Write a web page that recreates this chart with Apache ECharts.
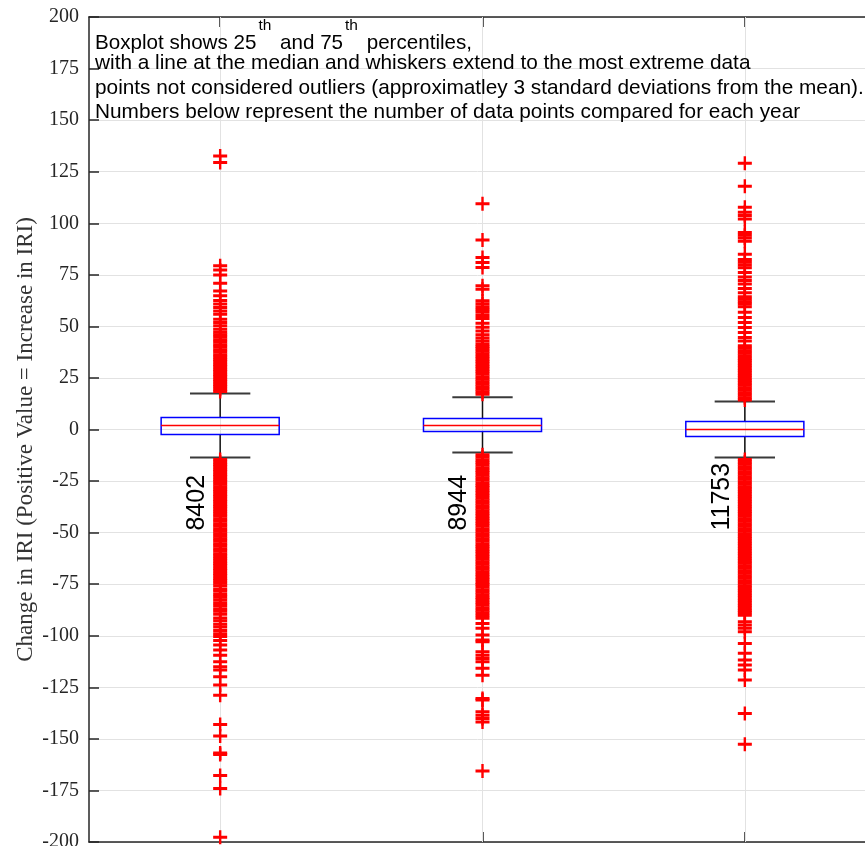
<!DOCTYPE html>
<html>
<head>
<meta charset="utf-8">
<script src="https://cdn.jsdelivr.net/npm/echarts@6/dist/echarts.min.js"></script>
<style>
html,body{margin:0;padding:0;background:#fff}
#main{width:865px;height:846px}
</style>
</head>
<body>
<div id="main"></div>
<script>
// one box per year group, x = 1..3
var groups = [1, 2, 3];
var counts = ['8402', '8944', '11753'];
var whiskerLow = [-13.6, -11.2, -13.6];
var q1 = [-2.4, -1.0, -3.4];
var median = [1.9, 1.9, 0];
var q3 = [5.8, 5.3, 3.9];
var whiskerHigh = [17.5, 15.6, 13.6];

// outliers (dense parts are solid columns)
var outliers1 = [132.6, 129.4, 79.4, 77.3, 74.9, 70.9, 67.2, 64.8, 62.6, 60.8, 59.1, 57.4, 55.9, 53.5, 51.9, 50.3, 48.6,
  47.1, 46.0, 44.8, 43.5, 42.4, 41.1, 40.0, 38.7, 37.6, 36.3, 35.2, 33.9, 32.8, 31.5, 30.4, 29.1, 28.0, 26.7, 25.6,
  24.3, 23.2, 21.9, 20.8, 19.5, 18.4,
  -14.6, -15.7, -17.0, -18.1, -19.4, -20.5, -21.8, -22.9, -24.2, -25.3, -26.6, -27.7, -29.0, -30.1, -31.4, -32.5,
  -33.8, -34.9, -36.2, -37.3, -38.6, -39.7, -41.0, -42.1, -43.4, -44.5, -45.8, -46.9, -48.2, -49.3, -50.6, -51.7,
  -53.0, -54.1, -55.4, -56.5, -57.8, -58.9, -60.2, -61.3, -62.6, -63.7, -65.0, -66.1, -67.4, -68.5, -69.8, -70.9,
  -72.2, -73.3, -74.6, -75.7, -77.3, -78.4, -80.0, -81.2, -82.5, -84.0, -85.3, -86.9, -88.1, -89.6, -91.4, -92.7,
  -94.4, -95.8, -97.5, -99.0, -100.4, -102.3, -104.5, -106.9, -109.4, -112.6, -115.0, -116.6, -119.9, -123.9,
  -128.8, -143.0, -148.6, -156.8, -157.6, -167.7, -174.1, -197.7];
var outliers2 = [109.4, 91.9, 83.4, 81.0, 78.6, 69.7, 68.0, 62.4, 61.0, 59.5, 58.2, 56.8, 55.3, 53.8, 51.5, 49.6, 47.8,
  46.0, 44.4, 42.9, 41.5, 40.3, 39.1, 37.9, 36.7, 35.4, 34.2, 33.0, 31.8, 30.5, 29.3, 28.1, 26.9, 25.6, 24.4, 23.2,
  22.0, 20.7, 19.5, 18.3, 17.1,
  -12.3, -13.5, -14.8, -16.0, -17.2, -18.5, -19.7, -20.9, -22.2, -23.4, -24.6, -25.9, -27.1, -28.3, -29.6, -30.8,
  -32.0, -33.3, -34.5, -35.7, -37.0, -38.2, -39.4, -40.7, -41.9, -43.1, -44.4, -45.6, -46.8, -48.1, -49.3, -50.5,
  -51.8, -53.0, -54.2, -55.5, -56.7, -57.9, -59.2, -60.4, -61.6, -62.9, -64.1, -65.3, -66.6, -67.8, -69.0, -70.3,
  -71.5, -72.7, -74.0, -75.2, -76.4, -77.7, -78.9, -80.1, -81.4, -82.6, -83.9, -85.1, -86.4, -87.6, -88.9, -90.2,
  -91.5, -94.0, -96.4, -99.6, -102.0, -102.9, -107.8, -109.4, -111.0, -112.6, -115.8, -119.1, -130.4, -131.2,
  -136.9, -138.5, -140.1, -141.8, -165.6];
var outliers3 = [129.1, 117.9, 107.7, 105.3, 103.7, 102.1, 95.5, 94.2, 92.8, 91.3, 85.0, 82.4, 81.1, 79.8, 78.4, 76.1,
  74.0, 72.2, 70.5, 68.4, 66.3, 64.4, 63.2, 62.0, 60.8, 59.5, 56.8, 54.3, 51.9, 49.4, 47.0, 44.6, 42.9, 40.6, 39.4,
  38.2, 37.0, 35.8, 34.6, 33.4, 32.2, 31.0, 29.8, 28.6, 27.4, 26.2, 25.0, 23.8, 22.6, 21.4, 20.2, 19.0, 17.8, 16.6,
  15.4, 14.3,
  -14.5, -15.7, -16.9, -18.1, -19.3, -20.5, -21.7, -22.9, -24.1, -25.3, -26.5, -27.7, -28.9, -30.1, -31.3, -32.5,
  -33.7, -34.9, -36.1, -37.3, -38.5, -39.7, -40.9, -42.1, -43.3, -44.5, -45.7, -46.9, -48.1, -49.3, -50.5, -51.7,
  -52.9, -54.1, -55.3, -56.5, -57.7, -58.9, -60.1, -61.3, -62.5, -63.7, -64.9, -66.1, -67.3, -68.5, -69.7, -70.9,
  -72.1, -73.3, -74.5, -75.7, -76.9, -78.1, -79.3, -80.5, -81.7, -82.9, -84.1, -85.3, -86.5, -87.7, -88.9, -90.1,
  -93.2, -94.8, -96.4, -98.0, -103.7, -108.5, -111.8, -114.2, -116.6, -121.5, -137.7, -152.6];

var noteLines = [
  '{n|Boxplot shows 25}{s|th}{n| and 75}{s|th}{n| percentiles,}',
  'with a line at the median and whiskers extend to the most extreme data',
  'points not considered outliers (approximatley 3 standard deviations from the mean).',
  'Numbers below represent the number of data points compared for each year'
];
var yTitle = 'Change in IRI (Positive Value = Increase in IRI)';

var crossPath = 'path://M0,5.5L14,5.5L14,8.5L0,8.5ZM5.8,0L8.2,0L8.2,14L5.8,14Z';
var outlierGroups = [outliers1, outliers2, outliers3];
var outlierData = [];
outlierGroups.forEach(function (arr, i) {
  arr.forEach(function (v) { outlierData.push([groups[i], v]); });
});
var boxData = groups.map(function (g, i) {
  return [g, whiskerLow[i], q1[i], median[i], q3[i], whiskerHigh[i]];
});

function renderBox(params, api) {
  var g = api.value(0);
  var pLow = api.coord([g, api.value(1)]);
  var pQ1 = api.coord([g, api.value(2)]);
  var pMed = api.coord([g, api.value(3)]);
  var pQ3 = api.coord([g, api.value(4)]);
  var pHigh = api.coord([g, api.value(5)]);
  var boxW = api.size([0.45, 0])[0];
  var capW = api.size([0.23, 0])[0];
  var cx = pMed[0];
  var blk = { stroke: '#111', lineWidth: 1.5 };
  var cap = { stroke: '#3a3a3a', lineWidth: 2 };
  return {
    type: 'group',
    children: [
      { type: 'line', shape: { x1: cx, y1: pQ3[1], x2: cx, y2: pHigh[1] }, style: blk },
      { type: 'line', shape: { x1: cx, y1: pQ1[1], x2: cx, y2: pLow[1] }, style: blk },
      { type: 'line', shape: { x1: cx - capW / 2, y1: pHigh[1], x2: cx + capW / 2, y2: pHigh[1] }, style: cap },
      { type: 'line', shape: { x1: cx - capW / 2, y1: pLow[1], x2: cx + capW / 2, y2: pLow[1] }, style: cap },
      { type: 'rect', shape: { x: cx - boxW / 2, y: pQ3[1], width: boxW, height: pQ1[1] - pQ3[1] },
        style: { fill: 'none', stroke: '#0000ff', lineWidth: 1.5 } },
      { type: 'line', shape: { x1: cx - boxW / 2, y1: pMed[1], x2: cx + boxW / 2, y2: pMed[1] },
        style: { stroke: '#ff0000', lineWidth: 1.5 } }
    ]
  };
}

var axisColor = '#262626';
var gridColor = '#e2e2e2';
function xAxisOpt(pos) {
  return {
    type: 'value', min: 0.5, max: 3.5, position: pos,
    axisLine: { show: true, onZero: false, lineStyle: { color: axisColor, width: 1.5 } },
    axisTick: { show: true, inside: true, length: 10, customValues: groups, lineStyle: { color: axisColor, width: 1.5 } },
    axisLabel: { show: false },
    splitLine: { show: false }
  };
}

var chart = echarts.init(document.getElementById('main'));
chart.setOption({
  animation: false,
  backgroundColor: '#fff',
  grid: { left: 89, right: -11, top: 17, bottom: 4, containLabel: false, outerBoundsMode: 'none' },
  xAxis: [xAxisOpt('bottom'), xAxisOpt('top')],
  yAxis: {
    type: 'value', min: -200, max: 200, interval: 25,
    axisLine: { show: true, lineStyle: { color: axisColor, width: 1.5 } },
    axisTick: { show: true, inside: true, length: 10, lineStyle: { color: axisColor, width: 1.5 } },
    axisLabel: { fontFamily: 'Liberation Serif', fontSize: 20, color: axisColor, margin: 10 },
    splitLine: { show: true, lineStyle: { color: gridColor, width: 1 } }
  },
  series: [
    {
      type: 'scatter', data: [], z: 1, silent: true,
      markLine: {
        z: 1, silent: true, symbol: 'none', label: { show: false },
        lineStyle: { color: gridColor, width: 1, type: 'solid' },
        data: groups.map(function (g) { return { xAxis: g }; })
      }
    },
    {
      type: 'custom', z: 2, renderItem: renderBox, data: boxData,
      encode: { x: 0, y: [1, 2, 3, 4, 5] }
    },
    {
      type: 'scatter', z: 3, data: outlierData, symbol: crossPath, symbolSize: 14,
      itemStyle: { color: '#ff0000', opacity: 1 }
    }
  ]
});

// text: note lines, y-axis title, counts under each box
var graphics = [];
var noteTop = [18, 53, 78, 102];
noteLines.forEach(function (t, i) {
  var st = {
    text: t, fill: '#000', fontFamily: 'Liberation Sans', fontSize: 20.8,
    align: 'left', verticalAlign: 'top'
  };
  if (i === 0) {
    st.rich = {
      n: { fontFamily: 'Liberation Sans', fontSize: 20.6, fill: '#000', lineHeight: 36, verticalAlign: 'bottom' },
      s: { fontFamily: 'Liberation Sans', fontSize: 15.5, fill: '#000', lineHeight: 15, verticalAlign: 'top', padding: [0, 3, 0, 2] }
    };
  }
  graphics.push({ type: 'text', x: 95, y: noteTop[i], style: st, z: 10 });
});
var gridRect = chart.getModel().getComponent('grid').coordinateSystem.getRect();
graphics.push({
  type: 'text', x: 26, y: gridRect.y + gridRect.height / 2 + 10, rotation: Math.PI / 2,
  style: { text: yTitle, fill: '#333', fontFamily: 'Liberation Serif', fontSize: 23, align: 'center', verticalAlign: 'middle' }
});
groups.forEach(function (g, i) {
  var p = chart.convertToPixel({ gridIndex: 0 }, [g - 0.088, -49]);
  graphics.push({
    type: 'text', x: p[0], y: p[1], rotation: Math.PI / 2, z: 10,
    style: { text: counts[i], fill: '#000', fontFamily: 'Liberation Sans', fontSize: 25, align: 'left', verticalAlign: 'middle' }
  });
});
chart.setOption({ graphic: graphics });
</script>
</body>
</html>
